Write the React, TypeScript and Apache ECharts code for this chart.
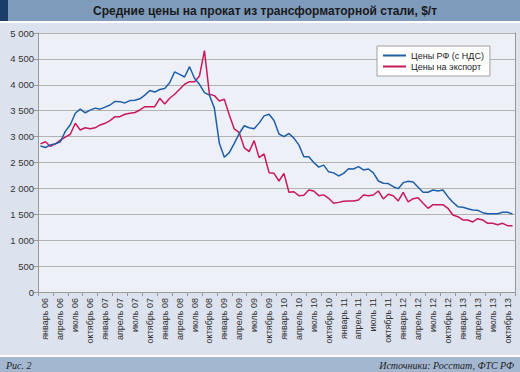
import { useEffect, useRef } from "react";
import * as echarts from "echarts";

const monthCategories: string[] = [
  "01.06","02.06","03.06","04.06","05.06","06.06","07.06","08.06","09.06","10.06","11.06","12.06",
  "01.07","02.07","03.07","04.07","05.07","06.07","07.07","08.07","09.07","10.07","11.07","12.07",
  "01.08","02.08","03.08","04.08","05.08","06.08","07.08","08.08","09.08","10.08","11.08","12.08",
  "01.09","02.09","03.09","04.09","05.09","06.09","07.09","08.09","09.09","10.09","11.09","12.09",
  "01.10","02.10","03.10","04.10","05.10","06.10","07.10","08.10","09.10","10.10","11.10","12.10",
  "01.11","02.11","03.11","04.11","05.11","06.11","07.11","08.11","09.11","10.11","11.11","12.11",
  "01.12","02.12","03.12","04.12","05.12","06.12","07.12","08.12","09.12","10.12","11.12","12.12",
  "01.13","02.13","03.13","04.13","05.13","06.13","07.13","08.13","09.13","10.13","11.13","12.13",
];

const quarterLabels: string[] = [
  "январь 06","апрель 06","июль 06","октябрь 06",
  "январь 07","апрель 07","июль 07","октябрь 07",
  "январь 08","апрель 08","июль 08","октябрь 08",
  "январь 09","апрель 09","июль 09","октябрь 09",
  "январь 10","апрель 10","июль 10","октябрь 10",
  "январь 11","апрель 11","июль 11","октябрь 11",
  "январь 12","апрель 12","июль 12","октябрь 12",
  "январь 13","апрель 13","июль 13","октябрь 13",
];

const pricesRF: number[] = [
  2820, 2790, 2840, 2860, 2900, 3100, 3230, 3450, 3530, 3460, 3510, 3550,
  3530, 3570, 3610, 3680, 3675, 3650, 3695, 3700, 3730, 3800, 3890, 3860,
  3910, 3930, 4040, 4250, 4200, 4150, 4350, 4125, 4010, 3850, 3800, 3550,
  2870, 2600, 2690, 2870, 3060, 3210, 3170, 3150, 3260, 3400, 3430, 3310,
  3050, 3000, 3060, 2970, 2840, 2610, 2610, 2500, 2410, 2450, 2320, 2300,
  2240, 2290, 2380, 2375, 2420, 2356, 2375, 2300, 2143, 2100, 2093, 2033,
  1995, 2111, 2137, 2124, 2022, 1925, 1925, 1970, 1950, 1970, 1841, 1732,
  1648, 1635, 1609, 1583, 1577, 1532, 1512, 1512, 1512, 1539, 1539, 1506,
];

const pricesExport: number[] = [
  2860, 2900, 2810, 2860, 2930, 2990, 3045, 3257, 3128, 3170, 3150, 3170,
  3225, 3257, 3308, 3385, 3385, 3431, 3450, 3465, 3514, 3578, 3578, 3578,
  3740, 3630, 3740, 3817, 3914, 4010, 4061, 4061, 4171, 4660, 3817, 3791,
  3688, 3720, 3418, 3148, 3076, 2787, 2710, 2922, 2594, 2665, 2304, 2291,
  2143, 2291, 1925, 1935, 1860, 1866, 1970, 1950, 1860, 1875, 1809, 1713,
  1730, 1751, 1757, 1757, 1777, 1873, 1860, 1873, 1950, 1796, 1886, 1860,
  1757, 1925, 1738, 1802, 1821, 1713, 1616, 1686, 1686, 1686, 1616, 1487,
  1454, 1390, 1390, 1352, 1416, 1390, 1326, 1326, 1300, 1326, 1281, 1281,
];

const seriesNames = ["Цены РФ (с НДС)", "Цены на экспорт"];
const titleText = "Средние цены на прокат из трансформаторной стали, $/т";
const figureText = "Рис. 2";
const sourceText = "Источники: Росстат, ФТС РФ";

const fmtThousands = (v: number) =>
  v >= 1000 ? `${Math.floor(v / 1000)} ${String(v % 1000).padStart(3, "0")}` : String(v);

export default function App() {
  const ref = useRef<HTMLDivElement>(null);
  useEffect(() => {
    if (!ref.current) return;
    const chart = echarts.init(ref.current, null, { renderer: "svg" });
    const font = "'Liberation Sans', Arial, sans-serif";
    chart.setOption({
      animation: false,
      backgroundColor: "#dde3ee",
      textStyle: { fontFamily: font },
      graphic: [
        { type: "rect", shape: { x: 0, y: 0, width: 520, height: 21 }, style: { fill: "#7f9bbc" } },
        { type: "rect", shape: { x: 0, y: 0, width: 8, height: 21 }, style: { fill: "#1b3d6a" } },
        { type: "rect", shape: { x: 0, y: 21, width: 520, height: 2 }, style: { fill: "#ffffff" } },
        {
          type: "text", x: 265, y: 11,
          style: { text: titleText, fill: "#1a1a1a", font: `bold 12px ${font}`, align: "center", verticalAlign: "middle" },
        },
        { type: "rect", shape: { x: 0, y: 355, width: 520, height: 2 }, style: { fill: "#ffffff" } },
        { type: "rect", shape: { x: 0, y: 357, width: 520, height: 15 }, style: { fill: "#a4b7d0" } },
        {
          type: "text", x: 6, y: 365,
          style: { text: figureText, fill: "#222", font: `italic 10px 'Liberation Serif', serif`, align: "left", verticalAlign: "middle" },
        },
        {
          type: "text", x: 514, y: 365,
          style: { text: sourceText, fill: "#222", font: `italic 10px 'Liberation Serif', serif`, align: "right", verticalAlign: "middle" },
        },
      ],
      grid: { left: 38, right: 5, top: 33, bottom: 80, show: true, backgroundColor: "#edf0f7", borderWidth: 0 },
      legend: {
        orient: "vertical",
        left: 377,
        top: 46,
        backgroundColor: "#ffffff",
        borderColor: "#a0a0a0",
        borderWidth: 1,
        borderRadius: 0,
        padding: [5, 6, 5, 6],
        itemWidth: 23,
        itemHeight: 2,
        itemGap: 2,
        icon: "rect",
        textStyle: { fontSize: 9, color: "#222", fontFamily: font },
        data: seriesNames,
      },
      xAxis: [
        {
          type: "category",
          data: monthCategories,
          boundaryGap: true,
          position: "bottom",
          axisLine: { show: false },
          axisTick: { show: false },
          axisLabel: { show: false },
          splitLine: { show: false },
        },
        {
          type: "category",
          data: quarterLabels,
          boundaryGap: true,
          position: "bottom",
          offset: 0,
          axisLine: { show: true, lineStyle: { color: "#999", width: 1 } },
          axisTick: { show: true, length: 4, alignWithLabel: false, interval: 0, lineStyle: { color: "#999" } },
          axisLabel: { interval: 0, rotate: 90, fontSize: 9, color: "#333", margin: 6, fontFamily: font },
          splitLine: { show: false },
        },
      ],
      yAxis: [
        {
          type: "value",
          min: 0,
          max: 5000,
          interval: 500,
          axisLine: { show: true, lineStyle: { color: "#999" } },
          axisTick: { show: true, length: 4, lineStyle: { color: "#999" } },
          axisLabel: { fontSize: 9.5, color: "#333", margin: 4, formatter: fmtThousands, fontFamily: font },
          splitLine: { show: true, lineStyle: { color: "#b2b2b2", width: 1 } },
        },
        {
          type: "value",
          min: 0,
          max: 5000,
          interval: 500,
          position: "right",
          axisLine: { show: true, lineStyle: { color: "#999" } },
          axisTick: { show: false },
          axisLabel: { show: false },
          splitLine: { show: false },
        },
      ],
      series: [
        {
          name: seriesNames[0],
          type: "line",
          xAxisIndex: 0,
          yAxisIndex: 0,
          data: pricesRF,
          symbol: "none",
          lineStyle: { color: "#1f5fa9", width: 1.5 },
          itemStyle: { color: "#1f5fa9" },
          z: 3,
        },
        {
          name: seriesNames[1],
          type: "line",
          xAxisIndex: 0,
          yAxisIndex: 0,
          data: pricesExport,
          symbol: "none",
          lineStyle: { color: "#c9195c", width: 1.5 },
          itemStyle: { color: "#c9195c" },
          z: 2,
        },
      ],
    });
    return () => chart.dispose();
  }, []);
  return (
    <div style={{ position: "absolute", left: 0, top: 0, width: 520, height: 372 }}>
      <div ref={ref} style={{ width: 520, height: 372 }} />
    </div>
  );
}
